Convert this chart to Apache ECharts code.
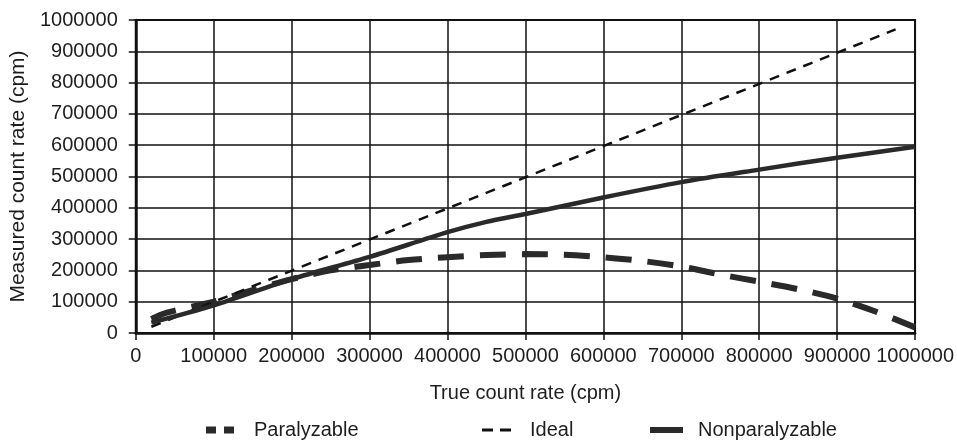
<!DOCTYPE html>
<html>
<head>
<meta charset="utf-8">
<script src="https://cdn.jsdelivr.net/npm/echarts@6/dist/echarts.min.js"></script>
<style>
html,body{margin:0;padding:0;background:#fff;}
#c{width:957px;height:447px;}
</style>
</head>
<body>
<div id="c"></div>
<script>
const seriesNames = ['Paralyzable', 'Ideal', 'Nonparalyzable'];
const xTicks = [0,100000,200000,300000,400000,500000,600000,700000,800000,900000,1000000];

const paralyzableX = [20000, 40000, 100000, 150000, 200000, 250000, 300000, 350000, 400000, 450000, 500000, 550000, 600000, 650000, 700000, 750000, 800000, 850000, 900000, 950000, 1000000];
const paralyzableY = [45000, 65000, 100000, 137000, 172000, 200000, 217000, 233000, 242000, 249000, 252000, 250000, 242000, 230000, 212000, 187000, 164000, 140000, 110000, 68000, 18000];

const idealX = [20000, 975000];
const idealY = [20000, 970000];

const nonparX = [20000, 100000, 200000, 300000, 400000, 450000, 500000, 600000, 700000, 800000, 900000, 1000000];
const nonparY = [33000, 88000, 172000, 243000, 322000, 355000, 380000, 433000, 482000, 522000, 560000, 595000];

function pairs(xs, ys){ return xs.map((x,i)=>[x, ys[i]]); }

const font = 'Liberation Sans, Arial, Helvetica, sans-serif';
const txt = {fontFamily: font, fontSize: 20, color: '#1e1e1e'};
const lineCol = '#2a2a2a';

function legendAt(name, left, icon, w, h, pad){
  return {
    data: [{name: name, icon: icon}],
    top: 420, left: left, padding: 0,
    itemWidth: w, itemHeight: h,
    textStyle: Object.assign({}, txt, {padding: [0,0,0,pad]})
  };
}

const chart = echarts.init(document.getElementById('c'));
chart.setOption({
  animation: false,
  backgroundColor: '#fff',
  grid: {left: 133, right: 41, top: 20, bottom: 114, show: true, borderColor: '#111', borderWidth: 2, containLabel: false},
  legend: [
    legendAt(seriesNames[0], 206, 'path://M0,0h10v7h-10z M18,0h10v7h-10z', 28, 7, 15),
    legendAt(seriesNames[1], 482, 'path://M0,0h11v3h-11z M18,0h11v3h-11z', 29, 3, 14),
    legendAt(seriesNames[2], 650, 'rect', 33, 6, 10)
  ],
  xAxis: {
    type: 'value', min: 0, max: 1000000, interval: 100000,
    name: 'True count rate (cpm)', nameLocation: 'middle', nameGap: 50,
    nameTextStyle: txt,
    axisLine: {show: true, onZero: false, lineStyle: {color: '#111', width: 2.5}},
    axisTick: {show: true, length: 7, lineStyle: {color: '#111', width: 1.5}},
    axisLabel: Object.assign({}, txt, {margin: 13, formatter: v => String(v)}),
    splitLine: {show: true, lineStyle: {color: '#111', width: 1.5}}
  },
  yAxis: {
    type: 'value', min: 0, max: 1000000, interval: 100000,
    name: 'Measured count rate (cpm)', nameLocation: 'middle', nameGap: 100,
    nameTextStyle: Object.assign({}, txt, {fontSize: 21}),
    axisLine: {show: true, lineStyle: {color: '#111', width: 2.5}},
    axisTick: {show: true, length: 7, lineStyle: {color: '#111', width: 1.5}},
    axisLabel: Object.assign({}, txt, {margin: 18, formatter: v => String(v)}),
    splitLine: {show: true, lineStyle: {color: '#111', width: 1.5}}
  },
  series: [
    {name: seriesNames[0], type: 'line', data: pairs(paralyzableX, paralyzableY), smooth: 0.3, symbol: 'none',
     lineStyle: {color: lineCol, width: 6, type: [26, 16]}, itemStyle: {color: lineCol}, z: 3},
    {name: seriesNames[1], type: 'line', data: pairs(idealX, idealY), symbol: 'none',
     lineStyle: {color: '#111', width: 2.5, type: [10, 8]}, itemStyle: {color: '#111'}, z: 4},
    {name: seriesNames[2], type: 'line', data: pairs(nonparX, nonparY), smooth: 0.3, symbol: 'none',
     lineStyle: {color: lineCol, width: 4.5}, itemStyle: {color: lineCol}, z: 5}
  ]
});
</script>
</body>
</html>
